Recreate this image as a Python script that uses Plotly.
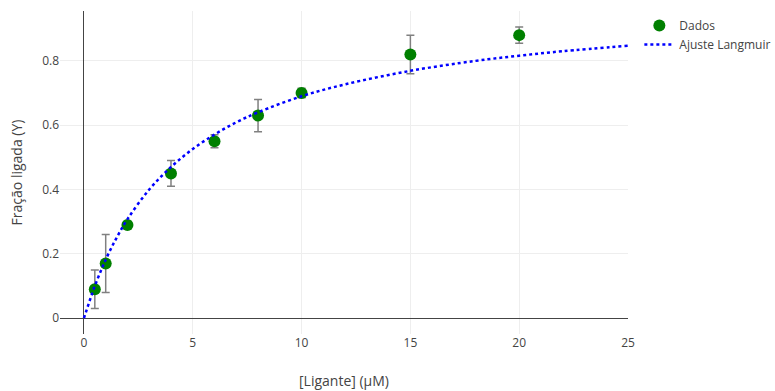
import plotly.graph_objects as go

# Experimental data
ligante = [0.5, 1, 2, 4, 6, 8, 10, 15, 20]
fracao = [0.09, 0.17, 0.29, 0.45, 0.55, 0.63, 0.70, 0.82, 0.88]
erro = [0.06, 0.09, 0.01, 0.04, 0.02, 0.05, 0.015, 0.06, 0.025]

# Langmuir fit curve
ajuste_x = [0, 0.5, 1, 1.5, 2, 3, 4, 5, 6, 7, 8, 10, 12, 15, 18, 20, 22, 25]
ajuste_y = [0.0, 0.10, 0.182, 0.25, 0.308, 0.40, 0.47, 0.526, 0.571, 0.609, 0.64, 0.69, 0.727, 0.769, 0.80, 0.816, 0.83, 0.847]

fig = go.Figure()
fig.add_trace(go.Scatter(
    x=ligante, y=fracao, mode="markers", name="Dados",
    marker=dict(color="green", size=12),
    error_y=dict(type="data", array=erro, visible=True, color="grey", thickness=1.5, width=4),
))
fig.add_trace(go.Scatter(
    x=ajuste_x, y=ajuste_y, mode="lines", name="Ajuste Langmuir",
    line=dict(color="blue", dash="dot", width=2.5, shape="spline"),
))

fig.update_layout(
    template="none",
    width=800, height=391,
    margin=dict(l=60, r=172, t=11, b=57),
    font=dict(family="Open Sans", size=12, color="#444"),
    paper_bgcolor="white", plot_bgcolor="white",
    xaxis=dict(title=dict(text="[Ligante] (μM)"), range=[-1.1, 25], automargin=False,
               showgrid=True, gridcolor="#eee", zeroline=True, zerolinecolor="#444",
               zerolinewidth=1, ticks="", showline=False),
    yaxis=dict(title=dict(text="Fração ligada (Y)"), range=[-0.049, 0.955], automargin=False,
               showgrid=True, gridcolor="#eee", zeroline=True, zerolinecolor="#444",
               zerolinewidth=1, ticks="", showline=False, dtick=0.2),
    showlegend=True,
)

fig.write_html("out.html", config={"displayModeBar": False},
               post_script="document.body.style.margin='0px';document.documentElement.style.overflow='hidden';document.body.style.overflow='hidden';")
